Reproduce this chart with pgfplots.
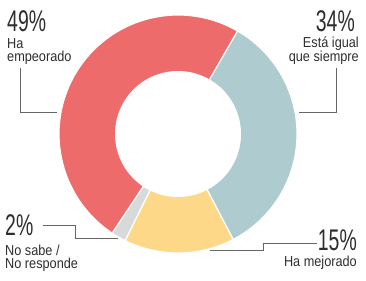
\documentclass[border=0pt]{standalone}
\usepackage{pgfplots}
\pgfplotsset{compat=1.18}
\usepackage{fontspec}
\setmainfont{Liberation Sans}[FakeStretch=0.88]
\newfontfamily\bignum{Liberation Sans}[FakeStretch=0.65]
\definecolor{cred}{HTML}{EE6B6B}
\definecolor{cblue}{HTML}{AECBD0}
\definecolor{cyel}{HTML}{FDD889}
\definecolor{cgrey}{HTML}{D8DADA}
\definecolor{ctext}{HTML}{2E2E2E}
\definecolor{cline}{HTML}{666666}
% values (percent)
\def\vBlue{34}\def\vYel{15}\def\vGrey{2}\def\vRed{49}
\begin{document}
\begin{tikzpicture}
\pgfmathsetmacro\aA{60}
\pgfmathsetmacro\aB{\aA-3.6*\vBlue}
\pgfmathsetmacro\aC{\aB-3.6*\vYel}
\pgfmathsetmacro\aD{\aC-3.6*\vGrey}
\pgfmathsetmacro\aE{\aD-3.6*\vRed}
\begin{axis}[width=366bp,height=281bp,scale only axis,
  xmin=0,xmax=366,ymin=0,ymax=281,y dir=reverse,hide axis,clip=false]
\def\big{\fontsize{30}{30}\selectfont\bignum}
\def\sm{\fontsize{14.5}{14}\selectfont}
\fill[cblue,draw=white,line width=1.2pt] (axis cs:178,134) -- ++(\aA:119bp) arc[start angle=\aA,end angle=\aB,radius=119bp] -- cycle;
\fill[cyel,draw=white,line width=1.2pt] (axis cs:178,134) -- ++(\aB:119bp) arc[start angle=\aB,end angle=\aC,radius=119bp] -- cycle;
\fill[cgrey,draw=white,line width=1.2pt] (axis cs:178,134) -- ++(\aC:119bp) arc[start angle=\aC,end angle=\aD,radius=119bp] -- cycle;
\fill[cred,draw=white,line width=1.2pt] (axis cs:178,134) -- ++(\aD:119bp) arc[start angle=\aD,end angle=\aE,radius=119bp] -- cycle;
\fill[white] (axis cs:178,134) circle[radius=63bp];
% leader lines
\draw[cline,line width=0.9pt] (axis cs:20,68) -- (axis cs:20,112) -- (axis cs:57,112);
\draw[cline,line width=0.9pt] (axis cs:336,68) -- (axis cs:336,112) -- (axis cs:299,112);
\draw[cline,line width=0.9pt] (axis cs:210,250) -- (axis cs:263,250) -- (axis cs:263,243) -- (axis cs:317,243);
\draw[cline,line width=0.9pt] (axis cs:43,225) -- (axis cs:75,225) -- (axis cs:75,238) -- (axis cs:118,238);
% labels
\node[anchor=base west,inner sep=0,text=ctext] at (axis cs:7,32) {\big 49\%};
\node[anchor=base west,inner sep=0,text=ctext] at (axis cs:7,49) {\sm Ha};
\node[anchor=base west,inner sep=0,text=ctext] at (axis cs:7,62) {\sm empeorado};
\node[anchor=base east,inner sep=0,text=ctext] at (axis cs:355,32) {\big 34\%};
\node[anchor=base east,inner sep=0,text=ctext] at (axis cs:359,48) {\sm Está igual};
\node[anchor=base east,inner sep=0,text=ctext] at (axis cs:359,62) {\sm que siempre};
\node[anchor=base west,inner sep=0,text=ctext] at (axis cs:5,235) {\big 2\%};
\node[anchor=base west,inner sep=0,text=ctext] at (axis cs:5,255) {\sm No sabe /};
\node[anchor=base west,inner sep=0,text=ctext] at (axis cs:5,268) {\sm No responde};
\node[anchor=base east,inner sep=0,text=ctext] at (axis cs:357,250) {\big 15\%};
\node[anchor=base east,inner sep=0,text=ctext] at (axis cs:357,266) {\sm Ha mejorado};
\end{axis}
\pgfresetboundingbox
\useasboundingbox (current axis.south west) rectangle (current axis.north east);
\end{tikzpicture}
\end{document}
